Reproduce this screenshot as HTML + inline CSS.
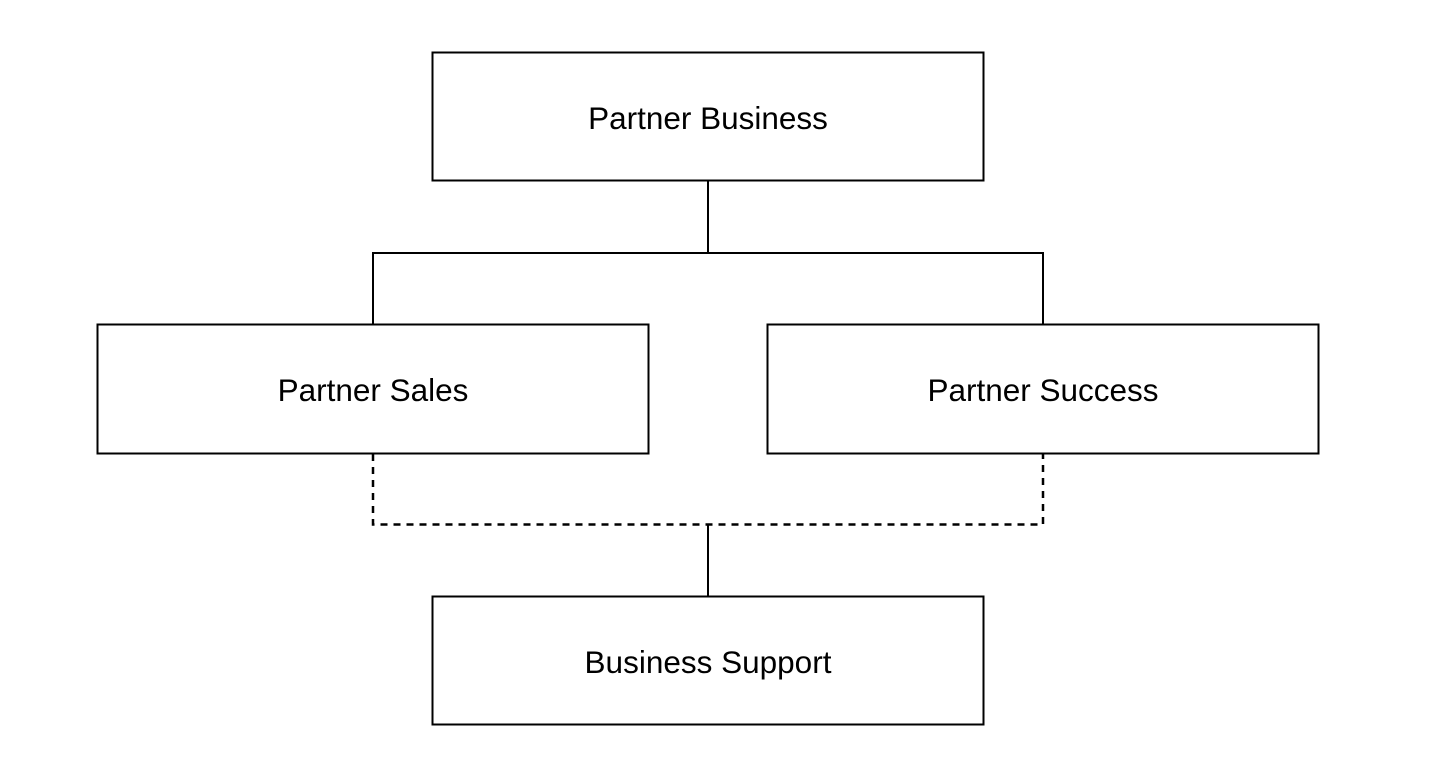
<!DOCTYPE html>
<html><head><style>
html,body{margin:0;padding:0;background:#fff;}
svg{display:block;}
text{font-family:"Liberation Sans",sans-serif;font-size:31.5px;fill:#000;}
</style></head><body>
<svg width="1440" height="780" viewBox="0 0 1440 780">
<g fill="#fff" stroke="#000" stroke-width="2">
<rect x="432.5" y="52.5" width="551" height="128"/>
<rect x="97.5" y="324.5" width="551" height="129"/>
<rect x="767.5" y="324.5" width="551" height="129"/>
<rect x="432.5" y="596.5" width="551" height="128"/>
</g>
<g fill="none" stroke="#000" stroke-width="2">
<path d="M708 181 V253 M373 253 H1043 M373 252 V324 M1043 252 V324"/>
<path d="M708 525 V596"/>
<path d="M373 454 V524.5 H1043 V454" stroke-dasharray="7,6" stroke-width="2.5"/>
</g>
<text x="708" y="129" text-anchor="middle">Partner Business</text>
<text x="373" y="401" text-anchor="middle">Partner Sales</text>
<text x="1043" y="401" text-anchor="middle">Partner Success</text>
<text x="708" y="673" text-anchor="middle">Business Support</text>
</svg>
</body></html>
